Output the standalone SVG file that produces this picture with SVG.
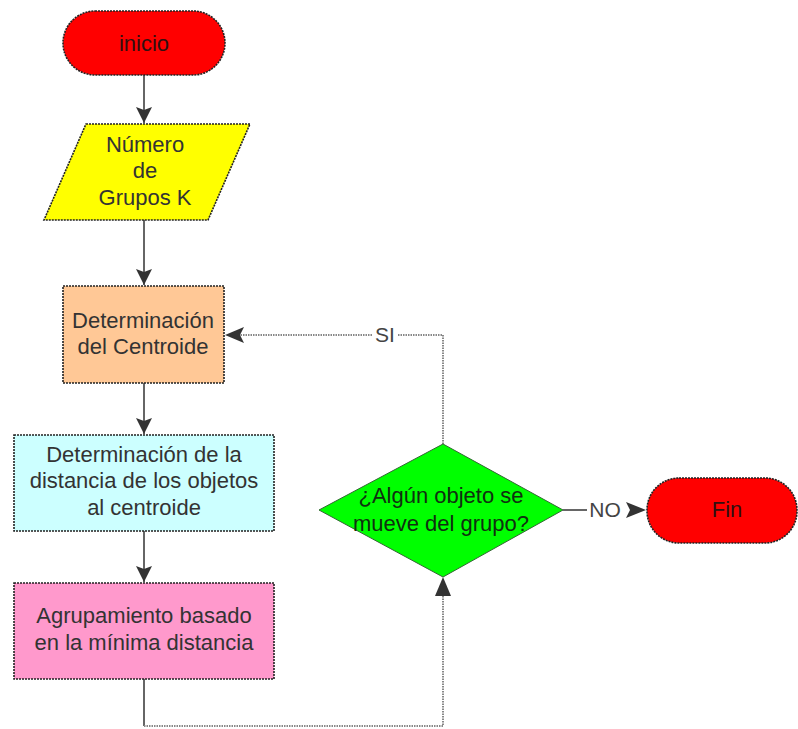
<svg xmlns="http://www.w3.org/2000/svg" width="798" height="729" viewBox="0 0 798 729">
<defs>
<style>
.shape{stroke:#222;stroke-width:1.6;stroke-dasharray:2 1}
.t{font-family:"Liberation Sans",Arial,sans-serif;font-size:22px;fill:#333;text-anchor:middle}
.solid{fill:none;stroke:#333;stroke-width:1.5}
.dot{fill:none;stroke:#888;stroke-width:2;stroke-dasharray:1.5 1}
.lbl{font-family:"Liberation Sans",Arial,sans-serif;font-size:21px;fill:#444;text-anchor:middle}
</style>
<marker id="ah" viewBox="0 0 16 16" refX="16" refY="8" markerWidth="16" markerHeight="16" markerUnits="userSpaceOnUse" orient="auto">
<path d="M0,0 L16,8 L0,16 L3,8 Z" fill="#333"/>
</marker>
</defs>
<rect width="798" height="729" fill="#fff"/>
<g id="connectors">
<line class="solid" x1="144" y1="75" x2="144" y2="123" marker-end="url(#ah)"/>
<line class="solid" x1="144" y1="220" x2="144" y2="285" marker-end="url(#ah)"/>
<line class="solid" x1="144" y1="383" x2="144" y2="434" marker-end="url(#ah)"/>
<line class="solid" x1="144" y1="531" x2="144" y2="582" marker-end="url(#ah)"/>
<polyline class="solid" points="144,679 144,726"/>
<polyline class="dot" points="144,726 443,726 443,579"/>
<path d="M443,577 L451,596 L435,596 Z" fill="#333"/>
<polyline class="dot" points="443,444 443,335 398,335"/>
<polyline class="dot" points="372,335 240,335"/>
<path d="M225,335 L244,327 L240,335 L244,343 Z" fill="#333"/>
<text class="lbl" x="385" y="342">SI</text>
<line class="solid" x1="563" y1="510" x2="587" y2="510"/>
<text class="lbl" x="605" y="517">NO</text>
<path d="M646,510 L626,502 L630,510 L626,518 Z" fill="#333"/>
</g>
<g id="inicio">
<rect class="shape" x="63" y="11" width="162" height="64" rx="32" fill="#ff0000"/>
<text class="t" x="144" y="51" style="fill:#301010">inicio</text>
</g>
<g id="numero">
<polygon class="shape" points="86,124 250,124 208,220 44,220" fill="#ffff00"/>
<text class="t" x="145" y="152">Número</text>
<text class="t" x="145" y="178">de</text>
<text class="t" x="145" y="205">Grupos K</text>
</g>
<g id="centroide">
<rect class="shape" x="63" y="286" width="161" height="97" fill="#ffc896"/>
<text class="t" x="143" y="328">Determinación</text>
<text class="t" x="143" y="354">del Centroide</text>
</g>
<g id="distancia">
<rect class="shape" x="14" y="435" width="260" height="96" fill="#ccffff"/>
<text class="t" x="144" y="462">Determinación de la</text>
<text class="t" x="144" y="488">distancia de los objetos</text>
<text class="t" x="144" y="515">al centroide</text>
</g>
<g id="agrupamiento">
<rect class="shape" x="14" y="583" width="260" height="96" fill="#ff99cc"/>
<text class="t" x="144" y="623">Agrupamiento basado</text>
<text class="t" x="144" y="650">en la mínima distancia</text>
</g>
<g id="decision">
<polygon points="443,444 563,510 443,577 319,510" fill="#00ff00" stroke="#336633" stroke-width="1"/>
<text class="t" x="441" y="503" style="fill:#103010">¿Algún objeto se</text>
<text class="t" x="441" y="531" style="fill:#103010">mueve del grupo?</text>
</g>
<g id="fin">
<rect class="shape" x="647" y="478" width="150" height="65" rx="32" fill="#ff0000"/>
<text class="t" x="727" y="517" style="fill:#301010">Fin</text>
</g>
</svg>
